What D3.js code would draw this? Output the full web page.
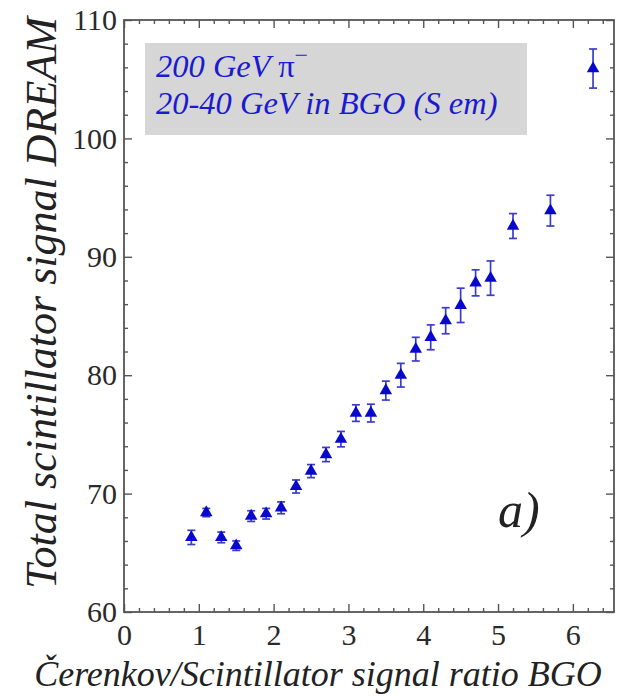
<!DOCTYPE html>
<html>
<head>
<meta charset="utf-8">
<script src="https://cdn.jsdelivr.net/npm/d3@7"></script>
<style>
  html, body { margin: 0; padding: 0; background: #fff; }
  svg { display: block; }
</style>
</head>
<body>
<svg id="chart" width="639" height="696"></svg>
<script>
// Cerenkov/Scintillator ratio in the BGO section (bin centres)
const ratio = [0.9, 1.1, 1.3, 1.5, 1.7, 1.9, 2.1, 2.3, 2.5, 2.7, 2.9, 3.1, 3.3,
               3.5, 3.7, 3.9, 4.1, 4.3, 4.5, 4.7, 4.9, 5.2, 5.7, 6.27];
// Mean total scintillator signal in DREAM
const signal = [66.3, 68.4, 66.3, 65.6, 68.1, 68.3, 68.8, 70.6, 71.9, 73.3, 74.6, 76.8, 76.8,
                78.7, 80.0, 82.2, 83.2, 84.6, 85.9, 87.8, 88.2, 92.6, 93.9, 105.9];
// Statistical uncertainty on the mean
const sigma = [0.6, 0.35, 0.45, 0.4, 0.45, 0.45, 0.5, 0.55, 0.55, 0.6, 0.65, 0.7, 0.75,
               0.8, 1.0, 1.0, 1.05, 1.1, 1.45, 1.1, 1.45, 1.05, 1.3, 1.65];

const xMajor = [0, 1, 2, 3, 4, 5, 6];
const yMajor = [60, 70, 80, 90, 100, 110];

const svg = d3.select("#chart");
const frame = { left: 124, top: 20, right: 614, bottom: 612 };

const x = d3.scaleLinear().domain([0, 6.55]).range([frame.left, frame.right]);
const y = d3.scaleLinear().domain([60, 110]).range([frame.bottom, frame.top]);

const serif = "'Liberation Serif', 'Times New Roman', serif";
const axisColor = "#555";

// Minor ticks
const xMinor = d3.range(0, 6.55, 0.2).filter(v => Math.abs(v - Math.round(v)) > 1e-6);
const yMinor = d3.range(60, 110.01, 2).filter(v => v % 10 !== 0);

function tickAxes(axisGen, scale, major, minor, transform, majorLen, minorLen) {
  const gMinor = svg.append("g").attr("transform", transform)
    .call(axisGen(scale).tickValues(minor).tickSize(minorLen).tickFormat(""));
  const gMajor = svg.append("g").attr("transform", transform)
    .call(axisGen(scale).tickValues(major).tickSize(majorLen).tickFormat(""));
  [gMinor, gMajor].forEach(g => {
    g.select(".domain").remove();
    g.selectAll("line").attr("stroke", axisColor).attr("stroke-width", 1.4);
  });
}

// Inward ticks on all four sides
tickAxes(d3.axisTop, x, xMajor, xMinor, `translate(0,${frame.bottom})`, 8, 4);
tickAxes(d3.axisBottom, x, xMajor, xMinor, `translate(0,${frame.top})`, 8, 4);
tickAxes(d3.axisRight, y, yMajor, yMinor, `translate(${frame.left},0)`, 8, 4);
tickAxes(d3.axisLeft, y, yMajor, yMinor, `translate(${frame.right},0)`, 8, 4);

// Frame
svg.append("rect")
  .attr("x", frame.left).attr("y", frame.top)
  .attr("width", frame.right - frame.left).attr("height", frame.bottom - frame.top)
  .attr("fill", "none").attr("stroke", axisColor).attr("stroke-width", 1.8);

// Tick labels
const xLab = svg.append("g").attr("transform", `translate(0,${frame.bottom})`)
  .call(d3.axisBottom(x).tickValues(xMajor).tickSize(0).tickPadding(10).tickFormat(d3.format("d")));
xLab.select(".domain").remove();
xLab.selectAll("text").attr("font-family", serif).attr("font-size", 30).attr("fill", "#2a2a2a")
  .attr("dy", "0.78em");

const yLab = svg.append("g").attr("transform", `translate(${frame.left},0)`)
  .call(d3.axisLeft(y).tickValues(yMajor).tickSize(0).tickPadding(7).tickFormat(d3.format("d")));
yLab.select(".domain").remove();
yLab.selectAll("text").attr("font-family", serif).attr("font-size", 30).attr("fill", "#2a2a2a");

// Axis titles
svg.append("text")
  .attr("x", 318).attr("y", 686)
  .attr("text-anchor", "middle")
  .attr("font-family", serif).attr("font-style", "italic").attr("font-size", 36)
  .attr("fill", "#222")
  .text("Čerenkov/Scintillator signal ratio BGO");

svg.append("text")
  .attr("transform", "translate(56,303) rotate(-90)")
  .attr("text-anchor", "middle")
  .attr("font-family", serif).attr("font-style", "italic").attr("font-size", 44)
  .attr("fill", "#222")
  .text("Total scintillator signal DREAM");

// Legend box
svg.append("rect")
  .attr("x", 145).attr("y", 43).attr("width", 382).attr("height", 92)
  .attr("fill", "#d6d6d6");

const leg = svg.append("g")
  .attr("font-family", serif).attr("font-style", "italic").attr("font-size", 32.5)
  .attr("fill", "#1a1ad0");
const l1 = leg.append("text").attr("x", 156).attr("y", 77);
l1.append("tspan").text("200 GeV ");
l1.append("tspan").attr("font-style", "normal").text("π");
l1.append("tspan").attr("font-style", "normal").attr("font-size", 24).attr("dy", -14).text("−");
leg.append("text").attr("x", 156).attr("y", 114).text("20-40 GeV in BGO (S em)");

// Panel label
svg.append("text")
  .attr("x", 498).attr("y", 527)
  .attr("font-family", serif).attr("font-style", "italic").attr("font-size", 50)
  .attr("fill", "#222")
  .text("a)");

// Data points with error bars
const pts = ratio.map((r, i) => ({ r, s: signal[i], e: sigma[i] }));
const bars = svg.append("g").attr("stroke", "#3c3cc8").attr("stroke-width", 1.7).attr("fill", "none");
pts.forEach(p => {
  const cx = x(p.r), y1 = y(p.s + p.e), y2 = y(p.s - p.e);
  bars.append("line").attr("x1", cx).attr("x2", cx).attr("y1", y1).attr("y2", y2);
  bars.append("line").attr("x1", cx - 4).attr("x2", cx + 4).attr("y1", y1).attr("y2", y1);
  bars.append("line").attr("x1", cx - 4).attr("x2", cx + 4).attr("y1", y2).attr("y2", y2);
});

svg.append("g").selectAll("path").data(pts).join("path")
  .attr("transform", d => `translate(${x(d.r)},${y(d.s)})`)
  .attr("d", d3.symbol(d3.symbolTriangle, 68))
  .attr("fill", "#0808cc");
</script>
</body>
</html>
